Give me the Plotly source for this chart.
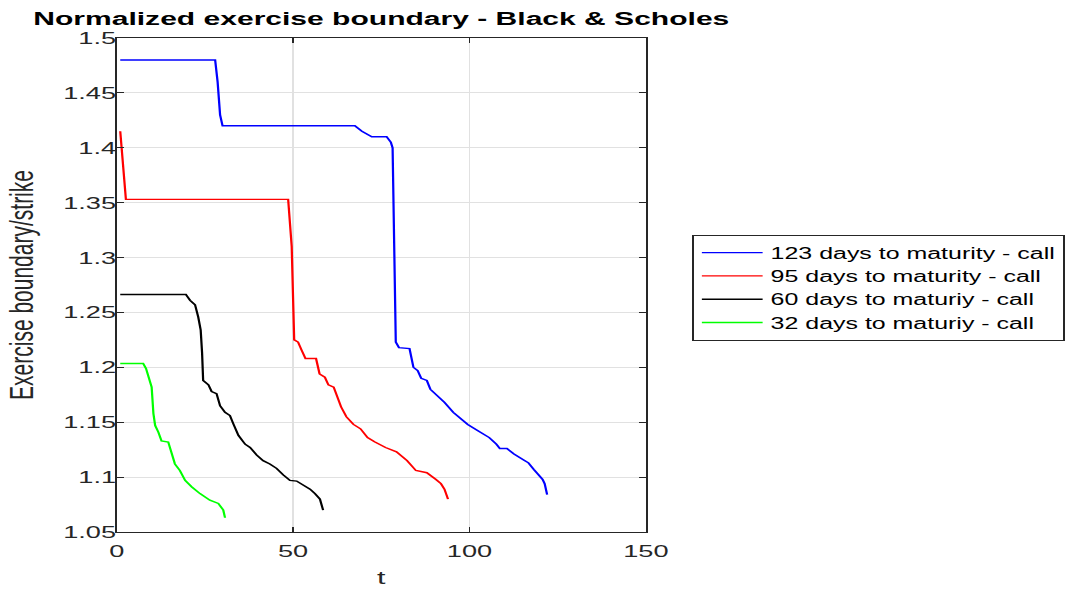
import plotly.graph_objects as go

# Exercise boundary / strike for each maturity, sampled along t
t_123 = [1, 27.9, 28.6, 29.3, 30.0, 67.5, 69.5, 70.8, 72.3, 76.5, 77.7, 78.2, 78.6, 79.1, 80.0,
         83.0, 84.1, 85.3, 86.3, 87.9, 88.9, 90.9, 92.9, 95.4, 97.5, 99.5, 102.5, 105.6, 107.6,
         108.6, 110.6, 112.6, 115.7, 116.7, 118.2, 119.7, 120.7, 121.3, 122.0]
b_123 = [1.48, 1.48, 1.46, 1.43, 1.42, 1.42, 1.415, 1.413, 1.41, 1.41, 1.405, 1.40, 1.30, 1.223,
         1.218, 1.217, 1.200, 1.197, 1.190, 1.188, 1.180, 1.174, 1.168, 1.159, 1.153, 1.148, 1.142,
         1.136, 1.130, 1.126, 1.126, 1.121, 1.115, 1.113, 1.107, 1.101, 1.098, 1.094, 1.084]

t_95 = [1, 2.6, 48.6, 49.6, 50.3, 51.4, 52.5, 53.5, 56.5, 57.5, 59.0, 60.0, 61.5, 62.6, 63.6,
        65.1, 67.1, 69.1, 71.1, 73.2, 76.2, 79.3, 82.3, 84.8, 86.3, 87.9, 90.4, 91.9, 92.9, 93.9]
b_95 = [1.415, 1.353, 1.353, 1.31, 1.225, 1.223, 1.215, 1.208, 1.208, 1.194, 1.191, 1.184, 1.182,
        1.173, 1.164, 1.155, 1.148, 1.144, 1.136, 1.132, 1.127, 1.123, 1.115, 1.106, 1.105, 1.104,
        1.098, 1.094, 1.089, 1.080]

t_60 = [1, 19.6, 20.8, 22.2, 23.1, 23.8, 24.2, 24.5, 26.0, 26.9, 28.3, 29.3, 30.7, 32.1, 33.0,
        34.5, 36.4, 37.8, 39.7, 41.5, 43.4, 45.3, 47.2, 49.1, 51.0, 52.9, 54.8, 56.2, 57.6, 58.5]
b_60 = [1.2664, 1.2664, 1.261, 1.257, 1.246, 1.234, 1.213, 1.188, 1.184, 1.178, 1.176, 1.165,
        1.159, 1.156, 1.149, 1.138, 1.130, 1.127, 1.120, 1.115, 1.112, 1.108, 1.102, 1.097,
        1.0964, 1.093, 1.089, 1.085, 1.080, 1.070]

t_32 = [1, 7.5, 8.3, 9.2, 9.9, 10.4, 10.9, 11.8, 12.7, 14.6, 15.6, 16.5, 17.9, 19.4, 21.3,
        23.6, 26.4, 28.8, 30.2, 30.7]
b_32 = [1.2035, 1.2035, 1.199, 1.191, 1.182, 1.158, 1.147, 1.141, 1.133, 1.132, 1.121, 1.112,
        1.106, 1.097, 1.091, 1.085, 1.079, 1.076, 1.070, 1.063]

series_names = ["123 days to maturity - call", "95 days to maturity - call",
                "60 days to maturiy - call", "32 days to maturiy - call"]
series_colors = ["#0000ff", "#ff0000", "#000000", "#00ff00"]

x_ticks = [0, 50, 100, 150]
y_ticks = [1.05, 1.1, 1.15, 1.2, 1.25, 1.3, 1.35, 1.4, 1.45, 1.5]
y_tick_text = ["1.05", "1.1", "1.15", "1.2", "1.25", "1.3", "1.35", "1.4", "1.45", "1.5"]

# The figure is laid out on a narrower canvas and widened horizontally in the page
PAGE_W, PAGE_H = 1068, 592
BASE_W = 668
STRETCH = PAGE_W / BASE_W

FONT = "Liberation Sans, Arial, Helvetica, sans-serif"
AXIS_COLOR = "#262626"

fig = go.Figure()
for tx, bx, name, color in zip([t_123, t_95, t_60, t_32], [b_123, b_95, b_60, b_32],
                               series_names, series_colors):
    fig.add_trace(go.Scatter(x=tx, y=bx, mode="lines", name=name,
                             line=dict(color=color, width=1.4)))

axis_common = dict(
    showline=True, linecolor=AXIS_COLOR, linewidth=1, mirror="ticks",
    ticks="inside", tickcolor=AXIS_COLOR, tickwidth=1, automargin=False,
    showgrid=True, gridcolor="#e1e1e1", gridwidth=1, zeroline=False,
    tickfont=dict(family=FONT, size=17, color=AXIS_COLOR),
)

fig.update_layout(
    width=BASE_W, height=PAGE_H,
    margin=dict(l=73, r=264, t=38, b=60, autoexpand=False),
    paper_bgcolor="white", plot_bgcolor="white",
    font=dict(family=FONT, color=AXIS_COLOR),
    title=dict(text="<b>Normalized exercise boundary - Black & Scholes</b>",
               font=dict(family=FONT, size=18.8, color="#000000"),
               x=0.5, xref="paper", xanchor="center",
               y=1 - 18 / PAGE_H, yref="container", yanchor="middle"),
    xaxis=dict(range=[0, 150], tickvals=x_ticks, ticklen=5, ticklabelstandoff=4,
               title=dict(text="t", font=dict(family=FONT, size=19, color=AXIS_COLOR), standoff=10),
               **axis_common),
    yaxis=dict(range=[1.05, 1.5], tickvals=y_ticks, ticktext=y_tick_text, ticklen=4.5,
               ticklabelstandoff=-4,
               title=dict(text="Exercise boundary/strike",
                          font=dict(family=FONT, size=21, color=AXIS_COLOR), standoff=12),
               **axis_common),
    legend=dict(x=433 / BASE_W, y=1 - 235 / PAGE_H, xref="container", yref="container",
                xanchor="left", yanchor="top",
                bgcolor="white", bordercolor=AXIS_COLOR, borderwidth=1,
                font=dict(family=FONT, size=15.6, color="#000000"),
                itemwidth=38, tracegroupgap=0),
    showlegend=True,
)

widen_js = """
var gd = document.getElementById('{plot_id}');
document.documentElement.style.overflow = 'hidden';
document.body.style.margin = '0';
document.body.style.overflow = 'hidden';
gd.style.width = '%dpx';
gd.style.transformOrigin = '0 0';
gd.style.transform = 'scale(%.5f, 1)';
""" % (BASE_W, STRETCH)

fig.write_html("out.html", post_script=widen_js)
